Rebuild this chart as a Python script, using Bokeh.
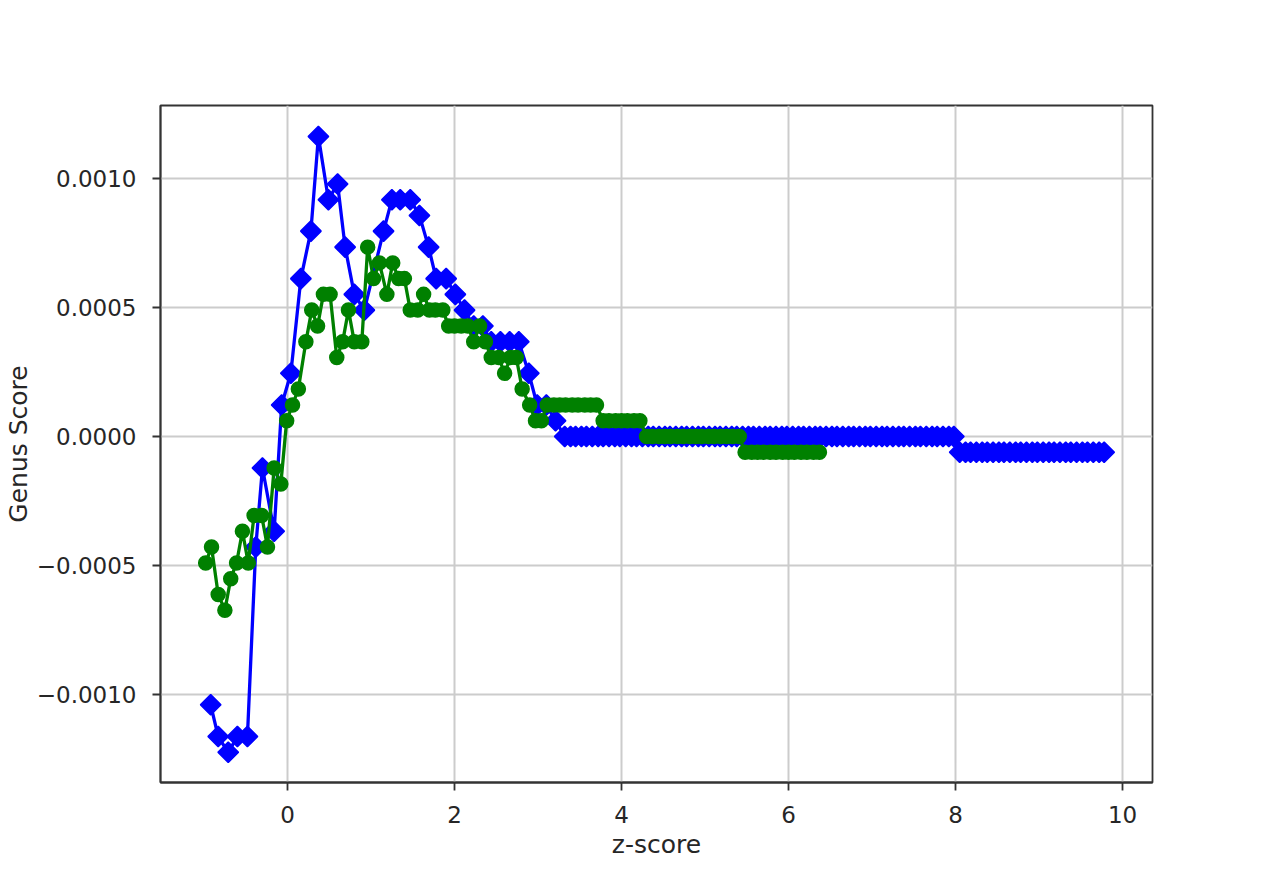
from bokeh.plotting import figure
from bokeh.models import Range1d, FixedTicker, CustomJSTickFormatter
from bokeh.embed import file_html
from bokeh.resources import INLINE
import numpy as np

# ---- data ----
blue_x = [-0.92, -0.83, -0.71, -0.60, -0.48, -0.38, -0.30, -0.16, -0.07, 0.04,
          0.16, 0.28, 0.37, 0.49, 0.60, 0.69, 0.80, 0.92, 1.15, 1.25,
          1.35, 1.47, 1.58, 1.69, 1.78, 1.90, 2.01, 2.12, 2.23, 2.34,
          2.44, 2.55, 2.66, 2.77, 2.89, 2.99, 3.10, 3.21,
          3.32, 3.39, 3.45, 3.52, 3.58, 3.65, 3.72, 3.78, 3.85, 3.92,
          3.98, 4.05, 4.12, 4.18, 4.25, 4.32, 4.38, 4.45, 4.52, 4.58,
          4.65, 4.72, 4.78, 4.85, 4.92, 4.98, 5.05, 5.12, 5.18, 5.25,
          5.32, 5.38, 5.45, 5.52, 5.58, 5.65, 5.72, 5.78, 5.85, 5.92,
          5.98, 6.05, 6.12, 6.18, 6.25, 6.32, 6.38, 6.45, 6.52, 6.58,
          6.65, 6.72, 6.78, 6.85, 6.92, 6.98, 7.05, 7.12, 7.18, 7.25,
          7.32, 7.38, 7.45, 7.52, 7.58, 7.65, 7.72, 7.78, 7.85, 7.92, 7.98,
          8.05, 8.12, 8.18, 8.25, 8.32, 8.38, 8.45, 8.52, 8.58, 8.65,
          8.72, 8.78, 8.85, 8.92, 8.98, 9.05, 9.12, 9.18, 9.25, 9.32,
          9.38, 9.45, 9.52, 9.58, 9.65, 9.72, 9.78]
blue_y = [-0.001040, -0.001163, -0.001224, -0.001163, -0.001163, -0.000428, -0.000122, -0.000367, 0.000122, 0.000245,
          0.000612, 0.000796, 0.001163, 0.000918, 0.000979, 0.000734, 0.000551, 0.000490, 0.000796, 0.000918,
          0.000918, 0.000918, 0.000857, 0.000734, 0.000612, 0.000612, 0.000551, 0.000490, 0.000428, 0.000428,
          0.000367, 0.000367, 0.000367, 0.000367, 0.000245, 0.000122, 0.000122, 0.0000612,
          0.0, 0.0, 0.0, 0.0, 0.0, 0.0, 0.0, 0.0, 0.0, 0.0,
          0.0, 0.0, 0.0, 0.0, 0.0, 0.0, 0.0, 0.0, 0.0, 0.0,
          0.0, 0.0, 0.0, 0.0, 0.0, 0.0, 0.0, 0.0, 0.0, 0.0,
          0.0, 0.0, 0.0, 0.0, 0.0, 0.0, 0.0, 0.0, 0.0, 0.0,
          0.0, 0.0, 0.0, 0.0, 0.0, 0.0, 0.0, 0.0, 0.0, 0.0,
          0.0, 0.0, 0.0, 0.0, 0.0, 0.0, 0.0, 0.0, 0.0, 0.0,
          0.0, 0.0, 0.0, 0.0, 0.0, 0.0, 0.0, 0.0, 0.0, 0.0, 0.0,
          -0.0000612, -0.0000612, -0.0000612, -0.0000612, -0.0000612, -0.0000612, -0.0000612, -0.0000612, -0.0000612, -0.0000612,
          -0.0000612, -0.0000612, -0.0000612, -0.0000612, -0.0000612, -0.0000612, -0.0000612, -0.0000612, -0.0000612, -0.0000612,
          -0.0000612, -0.0000612, -0.0000612, -0.0000612, -0.0000612, -0.0000612, -0.0000612]

green_x = [-0.98, -0.91, -0.83, -0.75, -0.68, -0.61, -0.54, -0.47, -0.40, -0.31,
           -0.24, -0.16, -0.08, -0.01, 0.06, 0.13, 0.22, 0.29, 0.36, 0.43,
           0.51, 0.59, 0.66, 0.73, 0.80, 0.89, 0.96, 1.03, 1.10, 1.19,
           1.26, 1.33, 1.40, 1.47, 1.56, 1.63, 1.70, 1.77, 1.86, 1.93,
           2.00, 2.08, 2.16, 2.23, 2.30, 2.37, 2.44, 2.53, 2.60, 2.67,
           2.74, 2.81, 2.90, 2.97, 3.04,
           3.11, 3.19, 3.26, 3.33, 3.41, 3.48, 3.56, 3.63, 3.70,
           3.78, 3.85, 3.93, 4.00, 4.07, 4.15, 4.22,
           4.30, 4.37, 4.45, 4.52, 4.59, 4.67, 4.74, 4.82, 4.89, 4.96,
           5.04, 5.11, 5.19, 5.26, 5.33, 5.41,
           5.48, 5.56, 5.63, 5.70, 5.78, 5.85, 5.93, 6.00, 6.07, 6.15,
           6.22, 6.30, 6.37]
green_y = [-0.000490, -0.000428, -0.000612, -0.000673, -0.000551, -0.000490, -0.000367, -0.000490, -0.000306, -0.000306,
           -0.000428, -0.000122, -0.000184, 0.0000612, 0.000122, 0.000184, 0.000367, 0.000490, 0.000428, 0.000551,
           0.000551, 0.000306, 0.000367, 0.000490, 0.000367, 0.000367, 0.000734, 0.000612, 0.000673, 0.000551,
           0.000673, 0.000612, 0.000612, 0.000490, 0.000490, 0.000551, 0.000490, 0.000490, 0.000490, 0.000428,
           0.000428, 0.000428, 0.000428, 0.000367, 0.000428, 0.000367, 0.000306, 0.000306, 0.000245, 0.000306,
           0.000306, 0.000184, 0.000122, 0.0000612, 0.0000612,
           0.000122, 0.000122, 0.000122, 0.000122, 0.000122, 0.000122, 0.000122, 0.000122, 0.000122,
           0.0000612, 0.0000612, 0.0000612, 0.0000612, 0.0000612, 0.0000612, 0.0000612,
           0.0, 0.0, 0.0, 0.0, 0.0, 0.0, 0.0, 0.0, 0.0, 0.0,
           0.0, 0.0, 0.0, 0.0, 0.0, 0.0,
           -0.0000612, -0.0000612, -0.0000612, -0.0000612, -0.0000612, -0.0000612, -0.0000612, -0.0000612, -0.0000612, -0.0000612,
           -0.0000612, -0.0000612, -0.0000612]

x_ticks = [0, 2, 4, 6, 8, 10]
y_ticks = [-0.001, -0.0005, 0.0, 0.0005, 0.001]
x_label = "z-score"
y_label = "Genus Score"

# ---- figure ----
p = figure(width=1264, height=864, output_backend="svg", toolbar_location=None,
           x_range=Range1d(-1.521, 10.359), y_range=Range1d(-0.001341, 0.001283),
           min_border_left=153, min_border_right=112, min_border_top=105, min_border_bottom=82)
p.background_fill_color = "white"
p.border_fill_color = "white"
p.outline_line_color = "#333333"
p.outline_line_width = 1.8

TXT = "#262626"
FONT = "DejaVu Sans"
for ax in (p.xaxis[0], p.yaxis[0]):
    ax.axis_line_color = "#333333"
    ax.axis_line_width = 1.8
    ax.major_tick_line_color = "#333333"
    ax.major_tick_line_width = 1.8
    ax.major_tick_in = 0
    ax.major_tick_out = 8
    ax.minor_tick_line_color = None
    ax.major_label_text_font = FONT
    ax.major_label_text_font_size = "23px"
    ax.major_label_text_color = TXT
    ax.axis_label_text_font = FONT
    ax.axis_label_text_font_size = "25px"
    ax.axis_label_text_color = TXT
    ax.axis_label_text_font_style = "normal"

p.xaxis.ticker = FixedTicker(ticks=x_ticks)
p.yaxis.ticker = FixedTicker(ticks=y_ticks)
p.xaxis.formatter = CustomJSTickFormatter(code="return tick.toFixed(0);")
p.yaxis.formatter = CustomJSTickFormatter(
    code="return (tick < 0 ? '\u2212' : '') + Math.abs(tick).toFixed(4);")
p.xaxis.axis_label = x_label
p.yaxis.axis_label = y_label
p.xaxis.major_label_standoff = 15
p.yaxis.major_label_standoff = 16
p.xaxis.axis_label_standoff = 4
p.yaxis.axis_label_standoff = 1

for g in (p.xgrid[0], p.ygrid[0]):
    g.grid_line_color = "#cccccc"
    g.grid_line_width = 2
p.xgrid.ticker = FixedTicker(ticks=x_ticks)
p.ygrid.ticker = FixedTicker(ticks=y_ticks)

# blue series
p.line(blue_x, blue_y, line_color="#0000ff", line_width=3.3)
p.scatter(blue_x, blue_y, marker="square", angle=np.pi / 4, size=14.5,
          fill_color="#0000ff", line_color="#0000ff", line_width=1.5)
# green series
p.line(green_x, green_y, line_color="#008000", line_width=3.3)
p.scatter(green_x, green_y, marker="circle", size=14,
          fill_color="#008000", line_color="#008000", line_width=1.5)

open("out.html", "w").write(file_html(p, INLINE))
